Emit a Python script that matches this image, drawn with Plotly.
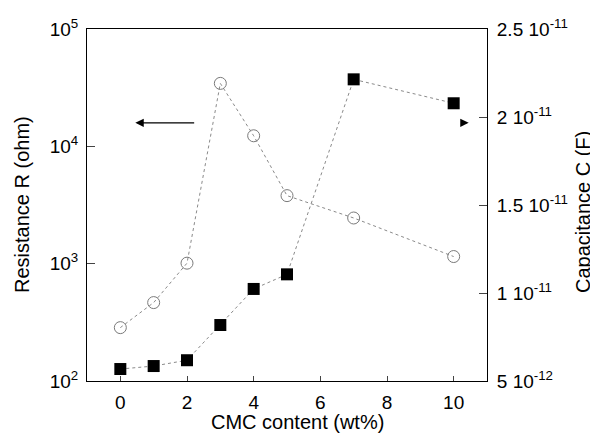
import plotly.graph_objects as go

cmc = [0, 1, 2, 3, 4, 5, 7, 10]
resistance = [285, 466, 1010, 34400, 12300, 3800, 2450, 1150]
capacitance = [5.68e-12, 5.85e-12, 6.18e-12, 8.18e-12, 10.23e-12, 11.06e-12, 22.14e-12, 20.78e-12]

left_vals = [100, 1000, 10000, 100000]
left_text = ["10<sup>2</sup>", "10<sup>3</sup>", "10<sup>4</sup>", "10<sup>5</sup>"]
right_vals = [5e-12, 1e-11, 1.5e-11, 2e-11, 2.5e-11]
right_text = ["5 10<sup>-12</sup>", "1 10<sup>-11</sup>", "1.5 10<sup>-11</sup>",
              "2 10<sup>-11</sup>", "2.5 10<sup>-11</sup>"]
x_ticks = [0, 2, 4, 6, 8, 10]

FAM = "Liberation Sans, Arial, sans-serif"
font = dict(family=FAM, size=20, color="black")
tfont = dict(family=FAM, size=19, color="black")

fig = go.Figure()
fig.add_trace(go.Scatter(
    x=cmc, y=resistance, mode="lines+markers",
    line=dict(color="#8a8a8a", width=1, dash="dot"),
    marker=dict(symbol="circle-open", size=12, color="#7a7a7a", line=dict(width=1)),
    showlegend=False, yaxis="y"))
fig.add_trace(go.Scatter(
    x=cmc, y=capacitance, mode="lines+markers",
    line=dict(color="#8a8a8a", width=1, dash="dot"),
    marker=dict(symbol="square", size=12, color="black"),
    showlegend=False, yaxis="y2"))

# page body has an 8px margin, so the figure is drawn at (8, 8)
fig.update_layout(
    width=590, height=430,
    margin=dict(l=79, r=111, t=21, b=57),
    paper_bgcolor="white", plot_bgcolor="white",
    font=font,
    xaxis=dict(range=[-1, 11], tickvals=x_ticks, ticks="inside", ticklen=5,
               showline=True, linecolor="black", linewidth=1, mirror=True,
               showgrid=False, zeroline=False, automargin=False,
               tickfont=tfont, ticklabelstandoff=4),
    yaxis=dict(type="log", range=[2, 5], tickvals=left_vals, ticktext=left_text,
               ticks="inside", ticklen=8, showline=True, linecolor="black",
               linewidth=1, showgrid=False, zeroline=False, automargin=False,
               tickfont=tfont, ticklabelstandoff=4),
    yaxis2=dict(overlaying="y", side="right", range=[5e-12, 2.5e-11],
                tickvals=right_vals, ticktext=right_text,
                ticks="inside", ticklen=8, showline=True, linecolor="black",
                linewidth=1, showgrid=False, zeroline=False, automargin=False,
                tickfont=tfont, ticklabelstandoff=5),
)

# axis titles
fig.add_annotation(text="CMC content (wt%)", xref="paper", yref="paper",
                   x=0.525, y=-0.117, xanchor="center", yanchor="middle",
                   showarrow=False, font=font)
fig.add_annotation(text="Resistance R (ohm)", xref="paper", yref="paper",
                   x=-0.1625, y=0.5, xanchor="center", yanchor="middle",
                   textangle=-90, showarrow=False, font=font)
fig.add_annotation(text="Capacitance C (F)", xref="paper", yref="paper",
                   x=1.24, y=0.48, xanchor="center", yanchor="middle",
                   textangle=-90, showarrow=False, font=font)

# arrows
fig.add_annotation(x=0.45, y=4.2, ax=2.26, ay=4.2, xref="x", yref="y",
                   axref="x", ayref="y", text="", showarrow=True,
                   arrowhead=2, arrowsize=1.4, arrowwidth=1.2, arrowcolor="black")
fig.add_annotation(x=10.45, y=4.2, ax=-5, ay=0, xref="x", yref="y",
                   text="", showarrow=True,
                   arrowhead=2, arrowsize=1.4, arrowwidth=1.2, arrowcolor="black")

fig.write_html("out.html")
